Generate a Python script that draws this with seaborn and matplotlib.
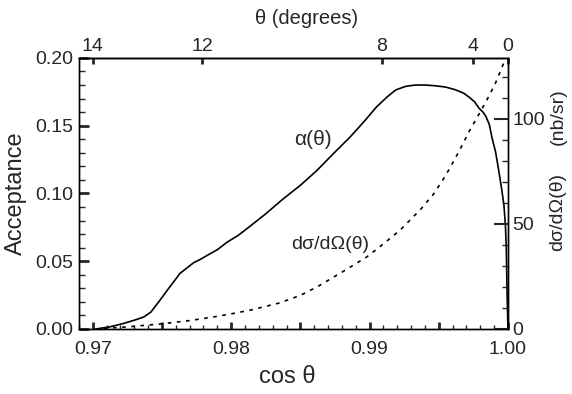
import matplotlib
matplotlib.use("Agg")
import matplotlib.pyplot as plt
import seaborn as sns
import pandas as pd
import numpy as np
from matplotlib.ticker import MultipleLocator

# ---- data ----
acc_cos = [0.9702, 0.9712, 0.9722, 0.9731, 0.9737, 0.9742, 0.9748, 0.9754, 0.9763,
           0.9773, 0.9778, 0.9783, 0.9790, 0.9797, 0.9805, 0.9812, 0.9825, 0.9837,
           0.9850, 0.9862, 0.9874, 0.9886, 0.9896, 0.9905, 0.9913, 0.9919, 0.9926,
           0.9933, 0.9940, 0.9947, 0.9955, 0.9962, 0.9968, 0.9972, 0.9976, 0.9979,
           0.9982, 0.9984, 0.99865, 0.99885, 0.9991, 0.99935, 0.99955, 0.99971,
           0.99982, 0.99988, 0.99993, 1.0]
acc = [0.0, 0.0015, 0.0040, 0.0068, 0.0089, 0.0125, 0.0205, 0.0288, 0.0410,
       0.0490, 0.0515, 0.0545, 0.0585, 0.0640, 0.0690, 0.0745, 0.0850, 0.0955,
       0.1060, 0.1170, 0.1295, 0.1417, 0.1530, 0.1638, 0.1715, 0.1764, 0.1790,
       0.1800, 0.1800, 0.1795, 0.1785, 0.1765, 0.1740, 0.1710, 0.1675, 0.1630,
       0.1600, 0.1570, 0.1510, 0.1410, 0.1310, 0.1160, 0.1030, 0.0915,
       0.0760, 0.0600, 0.0300, 0.0]

xs_cos = [0.9708, 0.9725, 0.9749, 0.9770, 0.9787, 0.9800, 0.9814, 0.9835, 0.9850,
          0.9862, 0.9880, 0.9898, 0.9910, 0.9922, 0.9937, 0.9946, 0.9953, 0.9958,
          0.9965, 0.9972, 0.9978, 0.9984, 0.9991, 0.9997]
xs = [0.3, 1.0, 2.4, 4.0, 5.7, 7.2, 9.0, 12.4, 16.0, 20.0, 27.0, 34.3, 40.5,
      47.0, 57.0, 64.0, 71.0, 76.5, 85.0, 94.0, 101.0, 108.0, 117.0, 126.6]

bottom_ticks = [0.970, 0.975, 0.980, 0.985, 0.990, 0.995, 1.000]
bottom_labels = ["0.97", "", "0.98", "", "0.99", "", "1.00"]
left_ticks = [0.00, 0.05, 0.10, 0.15, 0.20]
left_labels = ["0.00", "0.05", "0.10", "0.15", "0.20"]
right_ticks = [0, 50, 100]
right_labels = ["0", "50", "100"]
top_tick_cos = [0.9700, 0.9779, 0.9909, 0.9975, 1.0]
top_labels = ["14", "12", "8", "4", "0"]

sns.set_style("ticks")
plt.rcParams['font.family'] = ['Liberation Sans', 'DejaVu Sans']

fig = plt.figure(figsize=(5.72, 3.94), dpi=100)
ax = fig.add_axes([0.138, 0.165, 0.750, 0.688])

df_a = pd.DataFrame({"cos": acc_cos, "acc": acc})
df_x = pd.DataFrame({"cos": xs_cos, "xs": xs})

sns.lineplot(data=df_a, x="cos", y="acc", ax=ax, color="black", lw=1.2)
ax2 = ax.twinx()
sns.lineplot(data=df_x, x="cos", y="xs", ax=ax2, color="black", lw=1.2,
             linestyle=(0, (2.2, 3.3)))

ax.set_xlim(0.969, 1.0)
ax.set_ylim(0, 0.20)
ax2.set_ylim(0, 129)

for a in (ax, ax2):
    for s in a.spines.values():
        s.set_linewidth(1.0)
        s.set_color("black")

ax.set_xticks(bottom_ticks, labels=bottom_labels)
ax.xaxis.set_minor_locator(MultipleLocator(0.001))
ax.set_yticks(left_ticks, labels=left_labels)
ax.yaxis.set_minor_locator(MultipleLocator(0.01))
ax.tick_params(axis="x", which="major", direction="in", length=5, width=2,
               labelsize=14, pad=9, top=False)
ax.tick_params(axis="x", which="minor", direction="in", length=3, width=1, top=False)
ax.tick_params(axis="y", which="major", direction="in", length=7, width=2,
               labelsize=14, pad=4, right=False)
ax.tick_params(axis="y", which="minor", direction="in", length=4, width=1, right=False)

ax2.set_yticks(right_ticks, labels=right_labels)
ax2.yaxis.set_minor_locator(MultipleLocator(10))
ax2.tick_params(axis="y", which="major", direction="in", length=10, width=1.5,
                labelsize=14, pad=3)
ax2.tick_params(axis="y", which="minor", direction="in", length=4, width=1)
ax2.set_ylabel("")
ax2.set_xlabel("")

sec = ax.secondary_xaxis("top")
sec.set_xticks(top_tick_cos, labels=top_labels)
sec.tick_params(axis="x", which="major", direction="in", length=4, width=2,
                labelsize=14, pad=2)
sec.tick_params(axis="x", which="minor", length=0)
sec.spines["top"].set_linewidth(1.0)

ax.set_xlabel("cos θ", fontsize=17)
ax.set_ylabel("Acceptance", fontsize=17)
ax.xaxis.set_label_coords(0.485, -0.135)
ax.yaxis.set_label_coords(-0.122, 0.5)

fig.text(307 / 572, 1 - 18 / 394, "θ (degrees)", fontsize=14.5, ha="center", va="center")
fig.text(558 / 572, 1 - 212 / 394, "dσ/dΩ(θ)", fontsize=14, rotation=90,
         ha="center", va="center")
fig.text(558 / 572, 1 - 117 / 394, "(nb/sr)", fontsize=14, rotation=90,
         ha="center", va="center")

ax.text(0.9859, 0.1395, "α(θ)", fontsize=15, ha="center", va="center")
ax.text(0.98712, 0.062, "dσ/dΩ(θ)", fontsize=14, ha="center", va="center")

fig.savefig("out.png", dpi=100)
